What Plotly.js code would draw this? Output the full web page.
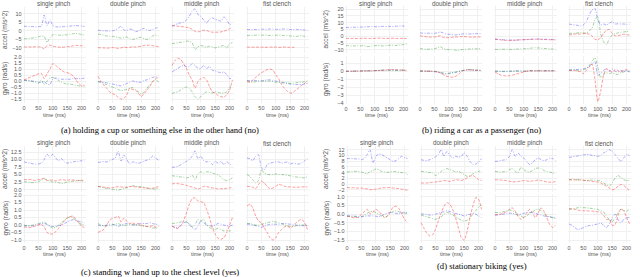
<!DOCTYPE html>
<html><head><meta charset="utf-8">
<script src="https://cdn.plot.ly/plotly-3.0.1.min.js"></script>
<style>html,body{margin:0;padding:0;background:#fff}#chart{width:640px;height:277px}</style>
</head><body><div id="chart"></div>
<script>
// ---------- data ----------
const T = [0,10,20,30,40,50,60,70,80,90,100,110,120,130,140,150,160,170,180,190,200,210];
const gestureNames = ['single pinch','double pinch','middle pinch','fist clench'];
const gestureKeys = ['sp','dp','mp','fc'];
const captions = {
  a:'(a) holding a cup or something else in the other hand (no)',
  b:'(b) riding a car as a passenger (no)',
  c:'(c) standing w hand up to the chest level (yes)',
  d:'(d) stationary biking (yes)'
};
const accTitle = 'accel (m/s^2)';
const gyrTitle = 'gyro (rad/s)';
const timeTitle = 'time (ms)';
const xTicks = [0,50,100,150,200];

// panel a
const a_sp_acc_x = [2.7,2.6,2.5,2.5,2.4,2.5,2.6,9.3,3.0,6.5,3.2,2.4,2.3,2.4,2.5,2.6,2.8,3.0,3.1,3.0,2.8,2.6];
const a_sp_acc_y = [-4.7,-4.5,-4.3,-4.2,-4.0,-3.5,-3.0,-3.2,-6.8,-4.0,-2.4,-2.2,-2.5,-2.6,-2.4,-2.3,-2.0,-1.7,-1.5,-1.8,-2.1,-2.5];
const a_sp_acc_z = [-9.4,-9.5,-9.4,-9.5,-9.3,-9.4,-9.6,-10.6,-8.6,-8.4,-9.0,-9.3,-9.5,-9.6,-9.5,-9.3,-9.2,-8.8,-8.5,-8.6,-8.8,-9.0];
const a_sp_gyr_x = [0.05,0.05,0.05,0.0,-0.05,-0.1,-0.1,-0.05,-0.25,-0.3,0.2,0.25,0.2,0.15,0.15,0.15,0.15,0.2,0.2,0.2,0.2,0.25];
const a_sp_gyr_y = [0.1,0.05,0.0,-0.05,-0.1,-0.2,0.1,-0.3,0.0,0.25,0.3,0.2,0.05,-0.1,-0.2,-0.25,-0.25,-0.3,-0.35,-0.4,-0.45,-0.45];
const a_sp_gyr_z = [0.08,0.2,0.3,0.4,0.5,0.6,0.65,0.2,0.6,1.0,1.45,1.3,1.1,0.9,0.75,0.7,0.6,0.45,0.1,-0.2,-0.4,-0.35];

const a_dp_acc_x = [0.5,0.1,0.0,0.0,-0.2,0.0,0.5,1.5,2.8,0.5,0.3,1.0,0.8,-0.5,0.0,0.8,1.5,0.5,0.3,0.8,1.5,2.0];
const a_dp_acc_y = [-1.8,-2.2,-2.5,-3.0,-3.2,-3.2,-3.5,-3.8,-4.3,-4.0,-3.6,-4.5,-5.0,-4.6,-4.0,-3.8,-4.6,-5.0,-4.2,-3.0,-2.5,-3.0];
const a_dp_acc_z = [-9.8,-10.0,-10.0,-10.2,-10.0,-9.8,-10.0,-10.3,-10.0,-9.5,-9.8,-9.7,-9.3,-9.5,-9.3,-9.0,-8.6,-8.5,-8.4,-8.7,-9.0,-9.2];
const a_dp_gyr_x = [-0.05,-0.08,-0.1,-0.15,-0.2,-0.25,-0.3,-0.35,-0.4,-0.3,-0.2,-0.1,0.0,-0.05,-0.1,-0.1,0.05,0.1,0.2,0.3,0.35,0.3];
const a_dp_gyr_y = [-0.05,-0.1,-0.2,-0.3,-0.4,-0.5,-0.6,-0.7,-0.8,-0.75,-0.7,-0.6,-0.55,-0.7,-0.9,-1.1,-0.9,-0.6,-0.3,-0.05,0.15,-0.1];
const a_dp_gyr_z = [0.4,0.0,-0.33,-0.6,-0.9,-1.05,-1.15,-1.35,-1.5,-1.45,-1.15,-0.6,-0.7,-0.75,-1.0,-1.3,-1.05,-0.75,-0.45,-0.05,0.2,0.3];

const a_mp_acc_x = [2.7,3.5,4.3,4.7,5.1,6.3,8.6,11.6,12.9,9.6,8.6,6.3,4.7,6.7,7.6,6.7,6.3,5.7,8.2,6.7,3.7,4.3];
const a_mp_acc_y = [-7.5,-7.2,-7.0,-6.7,-6.5,-6.0,-6.2,-7.0,-11.0,-9.4,-8.6,-9.0,-9.6,-9.0,-9.4,-10.0,-9.6,-9.0,-8.6,-10.0,-7.5,-7.0];
const a_mp_acc_z = [3.1,2.9,2.7,2.5,2.4,2.1,1.8,0.8,-0.2,-0.6,-0.2,0.4,0.2,-0.4,-0.8,-0.8,-0.8,-0.6,-0.2,0.4,1.2,1.8];
const a_mp_gyr_x = [0.75,0.9,1.05,1.2,1.3,1.2,1.2,1.45,1.3,1.05,1.05,1.3,1.05,1.2,0.9,0.85,0.75,0.7,0.75,0.55,0.2,0.3];
const a_mp_gyr_y = [-1.05,-0.95,-0.9,-0.75,-0.6,-0.5,-0.6,-0.9,-1.3,-1.5,-1.3,-1.05,-0.9,-0.95,-1.0,-0.9,-0.95,-1.0,-1.0,-0.9,-0.5,-0.35];
const a_mp_gyr_z = [1.3,1.7,1.9,1.8,1.45,1.05,0.5,0.1,-0.6,-0.05,0.2,0.3,0.1,-0.45,-0.9,-1.0,-1.2,-1.3,-1.35,-1.15,-0.75,0.1];

const a_fc_acc_x = [0.8,0.7,0.8,0.8,0.7,0.9,1.0,0.9,1.1,1.0,0.9,0.8,1.0,1.1,1.0,0.8,0.8,0.9,0.7,0.8,0.5,0.5];
const a_fc_acc_y = [-2.8,-2.6,-2.7,-2.5,-2.4,-2.6,-2.5,-2.6,-2.8,-2.7,-2.6,-2.5,-2.6,-2.8,-2.7,-3.0,-3.2,-3.3,-3.0,-2.9,-3.2,-3.4];
const a_fc_acc_z = [-9.5,-9.6,-9.6,-9.5,-9.6,-9.5,-9.7,-9.6,-9.5,-9.6,-9.5,-9.7,-9.6,-9.5,-9.6,-9.7,-9.6,-9.7,null,null,null,null];
const a_fc_gyr_x = [0.0,0.05,0.05,0.05,0.0,0.0,0.05,0.1,0.1,0.05,0.0,-0.05,-0.1,-0.15,-0.2,-0.25,-0.3,-0.3,-0.3,-0.3,-0.25,-0.2];
const a_fc_gyr_y = [0.05,-0.05,-0.1,-0.05,0.0,0.0,0.0,0.0,0.0,-0.05,-0.1,-0.1,-0.15,-0.15,-0.15,-0.2,-0.2,-0.15,-0.1,-0.1,-0.05,0.0];
const a_fc_gyr_z = [-0.05,-0.1,0.08,0.3,0.5,0.7,0.8,0.95,1.0,0.9,0.5,0.2,-0.3,-0.6,-0.85,-1.0,-0.95,-0.75,-0.55,-0.35,-0.2,0.0];

// panel b
const b_sp_acc_x = [6.5,6.5,6.6,6.6,6.7,6.8,6.8,7.0,7.0,7.2,7.1,7.0,7.2,7.3,7.2,7.3,7.2,7.3,7.5,7.6,7.5,7.4];
const b_sp_acc_y = [-6.8,-6.8,-7.0,-7.0,-6.9,-7.0,-6.8,-7.2,-7.5,-7.0,-6.8,-6.7,-6.9,-7.0,-6.8,-6.6,-6.5,-6.7,-6.5,-6.3,-6.0,-5.8];
const b_sp_acc_z = [-1.5,-1.6,-1.5,-1.5,-1.6,-1.5,-1.4,-1.5,-1.6,-1.5,-1.5,-1.4,-1.3,-1.5,-1.6,-1.5,-1.4,-1.5,-1.6,-1.5,-1.5,-1.6];
const b_sp_gyr_x = [0,0,0,0.02,0.05,0.05,0.05,0.05,0.05,0.05,0.08,0.1,0.1,0.1,0.12,0.15,0.15,0.12,0.1,0.1,0.1,0.1];
const b_sp_gyr_y = [-0.02,0,0,0,0,0.02,0.03,0.03,0.05,0.05,0.08,0.1,0.12,0.15,0.15,0.12,0.1,0.1,0.12,0.15,0.15,0.12];
const b_sp_gyr_z = [0,-0.02,0,0,0.02,0,0.02,0.05,0.05,0.05,0.05,0.08,0.1,0.12,0.15,0.18,0.2,0.2,0.18,0.15,0.12,0.1];

const b_dp_acc_x = [2.5,2.3,2.2,2.3,2.2,2.2,2.5,3.2,2.5,1.8,1.5,1.2,1.0,1.2,1.5,1.8,1.8,1.7,1.8,1.9,2.0,2.0];
const b_dp_acc_y = [-9.0,-9.2,-9.5,-9.4,-9.2,-9.0,-8.5,-7.5,-9.0,-9.5,-9.7,-9.8,-10.0,-10.2,-9.8,-9.6,-9.5,-9.3,-9.2,-9.2,-9.1,-9.2];
const b_dp_acc_z = [0.5,0.0,-0.3,-0.5,-0.5,-0.4,-0.3,0.5,-0.8,-1.0,-1.0,-0.8,-0.6,-0.5,-0.3,-0.2,-0.3,-0.5,-0.6,-0.5,-0.4,-0.4];
const b_dp_gyr_x = [0,0,0,0,0,-0.05,-0.1,-0.2,-0.3,-0.35,-0.3,-0.2,-0.15,-0.1,0,0.1,0.15,0.15,0.15,0.1,0.1,0.1];
const b_dp_gyr_y = [0,0,0,0,0,0,-0.05,-0.15,-0.2,-0.3,-0.25,-0.2,-0.15,-0.05,0.05,0.1,0.15,0.2,0.2,0.15,0.15,0.1];
const b_dp_gyr_z = [0.05,0.05,0.02,0,-0.02,-0.05,-0.1,-0.2,-0.4,-0.6,-0.7,-0.75,-0.7,-0.5,-0.2,0.05,0.15,0.2,0.15,0.12,0.1,0.1];

const b_mp_acc_x = [-2.2,-2.2,-2.4,-2.5,-2.6,-2.7,-2.8,-2.8,-2.7,-2.6,-2.5,-2.4,-2.3,-2.2,-2.2,-2.0,-2.0,-2.1,-2.2,-2.2,-2.3,-2.3];
const b_mp_acc_y = [-9.5,-9.6,-9.5,-9.4,-9.5,-9.6,-9.5,-9.4,-9.3,-9.2,-9.1,-9.0,-8.8,-8.5,-8.3,-8.5,-8.7,-8.9,-9.0,-9.2,-9.3,-9.4];
const b_mp_acc_z = [-2.0,-2.3,-2.6,-2.8,-3.0,-3.0,-2.9,-2.8,-2.6,-2.5,-2.4,-2.3,-2.2,-2.0,-2.0,-2.1,-2.2,-2.3,-2.4,-2.5,-2.5,-2.6];
const b_mp_gyr_x = [0,0,-0.05,-0.05,-0.05,0,0,0.05,0.05,0.05,0,0,0.05,0.05,0.05,0.05,0.05,0.05,0.05,0.05,0.05,0.05];
const b_mp_gyr_y = [0,0,0,0,0,0,0,0,0,0,0,0.05,0.05,0.05,0.05,0.05,0.05,0.05,0.05,0.05,0.05,0.05];
const b_mp_gyr_z = [-0.1,-0.3,-0.5,-0.55,-0.6,-0.55,-0.5,-0.4,-0.3,-0.2,-0.1,0,0.05,0.05,0.05,0.05,0.05,0.05,0.05,0.05,0.05,0.05];

const b_fc_acc_x = [9.0,8.6,8.3,8.0,7.6,8.3,10.7,15.6,19.3,20.5,12.0,8.3,9.0,8.3,9.5,10.7,9.0,9.2,9.0,9.0,8.8,8.8];
const b_fc_acc_y = [2.2,2.2,2.2,2.5,2.7,2.5,2.2,4.1,5.9,12.0,14.5,2.0,-4.0,-6.0,-2.0,1.0,2.0,2.5,3.0,3.2,3.5,3.5];
const b_fc_acc_z = [1.0,1.3,1.7,1.7,1.7,2.2,2.2,1.5,0.2,-2.2,-2.5,-1.0,2.0,4.5,5.0,2.0,0.5,0.5,1.0,1.5,1.2,1.0];
const b_fc_gyr_x = [0.17,0.18,0.2,0.22,0.25,0.3,0.4,0.6,0.9,1.2,-0.5,-0.3,0.1,0.3,0.0,0.3,0.0,-0.1,0.1,0.0,0.05,-0.1];
const b_fc_gyr_y = [0.1,0.12,0.15,0.12,0.1,0.2,0.3,0.7,1.2,1.7,0.5,-0.8,-0.4,-0.2,-0.3,-0.2,-0.35,-0.4,-0.2,-0.1,0.1,0.0];
const b_fc_gyr_z = [0.1,0.1,0.1,0.0,-0.05,-0.3,0.1,0.5,0.9,-1.0,-3.8,-2.5,-0.5,0.3,0.1,-0.1,0.2,0.1,-0.1,0.1,0.2,0.1];

// panel c
const c_sp_acc_x = [9.2,9.0,8.8,8.6,8.5,8.5,8.8,10.0,11.8,10.7,11.8,10.5,9.6,10.3,9.2,8.8,9.0,9.2,9.4,9.4,9.6,9.4];
const c_sp_acc_y = [2.6,2.5,2.4,2.3,2.4,2.6,3.2,3.6,3.2,2.8,2.5,2.4,2.3,2.0,2.2,2.5,2.7,2.8,2.9,3.0,2.9,2.8];
const c_sp_acc_z = [3.3,3.3,3.4,3.2,3.0,3.3,3.5,3.8,3.0,3.2,3.1,2.9,3.1,3.3,3.2,3.1,3.3,3.2,3.0,3.0,3.1,2.9];
const c_sp_gyr_x = [-0.05,-0.05,-0.08,-0.05,0,0.05,0.08,0.1,0.05,-0.05,-0.1,-0.08,-0.05,0,0.1,0.2,0.3,0.35,0.3,0.25,0.2,0.15];
const c_sp_gyr_y = [0.0,-0.05,-0.05,0,0.05,0.1,0.15,0.2,0.05,-0.1,-0.2,-0.15,0,0.15,0.3,0.45,0.55,0.5,0.3,0.15,0.05,0.0];
const c_sp_gyr_z = [-0.13,-0.15,-0.18,-0.12,-0.07,0.0,0.05,-0.13,-0.5,-0.6,-0.58,-0.45,-0.22,0.05,0.27,0.5,0.56,0.6,0.38,0.15,-0.07,-0.18];

const c_dp_acc_x = [9.0,9.2,9.3,9.2,9.5,10.0,10.5,12.8,9.5,11.5,10.0,8.5,9.2,9.0,8.8,9.0,9.5,9.8,10.2,11.2,10.5,9.8];
const c_dp_acc_y = [1.1,0.8,0.6,0.4,0.3,0.1,0.0,-0.2,0.1,0.4,0.6,1.0,1.3,1.1,1.0,0.9,0.8,0.5,0.3,0.2,0.2,0.5];
const c_dp_acc_z = [1.0,1.0,0.8,0.7,0.5,0.6,0.8,1.0,0.9,0.8,0.8,1.0,1.0,0.9,0.8,0.7,0.6,0.5,0.4,0.5,0.7,1.0];
const c_dp_gyr_x = [0.0,-0.05,-0.05,0,0.05,0.05,0,-0.1,0,0.05,0.1,0.05,0,0,0.05,0.1,0.1,0.1,0.15,0.1,0.05,0.05];
const c_dp_gyr_y = [0.1,0.0,-0.05,-0.05,-0.05,0,0.05,0.1,0,-0.05,0,0.05,0.05,0,0,-0.05,-0.1,-0.1,-0.15,-0.2,-0.2,-0.2];
const c_dp_gyr_z = [-0.5,-0.4,-0.3,0.0,0.3,0.45,0.5,0.6,0.2,0.45,0.25,0.1,0.15,0.05,0.1,0.0,-0.05,-0.1,-0.1,-0.05,-0.15,-0.1];

const c_mp_acc_x = [7.4,7.5,7.7,8.2,8.8,9.4,10.0,11.1,12.9,10.3,11.1,9.6,9.2,9.4,8.3,9.4,8.8,9.4,8.3,9.2,8.5,8.1];
const c_mp_acc_y = [4.6,4.5,4.4,4.2,4.1,3.9,4.1,4.8,3.3,5.2,5.9,5.5,5.9,5.8,5.5,5.2,5.0,4.1,3.3,3.0,3.3,3.9];
const c_mp_acc_z = [1.9,2.0,2.0,1.8,1.7,1.4,1.1,0.8,0.55,0.2,0.55,1.1,1.0,0.8,0.55,0.4,0.2,0.3,0.3,0.4,0.55,0.8];
const c_mp_gyr_x = [-0.07,-0.15,-0.2,0.0,0.15,0.2,0.05,-0.18,-0.3,-0.07,0.27,0.15,0.0,-0.05,-0.07,0.0,0.1,0.05,0.0,-0.05,-0.07,0.0];
const c_mp_gyr_y = [0.1,0.12,0.15,0.2,0.27,0.2,0.1,-0.13,0.0,0.38,0.27,0.38,0.0,-0.18,-0.22,-0.3,-0.22,-0.3,-0.4,-0.35,-0.4,-0.35];
const c_mp_gyr_z = [-0.07,-0.18,-0.22,-0.07,0.27,0.8,1.38,1.75,1.82,1.6,1.55,1.5,1.05,0.5,-0.18,-0.6,-0.9,-0.95,-0.85,-0.5,0.0,0.5];

const c_fc_acc_x = [10.5,10.3,9.6,11.1,11.6,7.2,6.6,8.3,8.8,9.0,9.2,9.2,8.8,9.0,9.2,8.5,8.8,8.6,8.5,8.8,9.6,10.3];
const c_fc_acc_y = [5.0,4.4,3.3,2.2,3.0,6.6,5.5,5.0,5.0,5.0,5.2,5.0,5.0,4.9,4.8,4.6,4.4,4.2,4.1,4.0,3.9,4.4];
const c_fc_acc_z = [1.1,1.0,0.8,0.3,1.7,2.8,2.2,1.1,0.3,0.5,1.1,1.7,1.5,1.1,0.9,0.9,0.8,0.8,0.8,0.9,0.9,0.9];
const c_fc_gyr_x = [0.05,0.05,0,-0.05,-0.1,-0.15,-0.1,0,0.05,0.05,0.05,0.05,0.08,0.1,0.08,0.05,0.05,0,-0.05,-0.05,-0.05,-0.05];
const c_fc_gyr_y = [0.1,0.1,0.05,0,0,0.05,0.1,0.15,0.2,0.25,0.2,0.15,0.1,0,-0.05,-0.1,-0.1,-0.05,0,0,0,0];
const c_fc_gyr_z = [1.27,1.38,1.15,0.6,0.27,0.15,-0.18,-0.5,-0.85,-1.0,-0.85,-0.5,-0.3,-0.13,-0.07,-0.18,-0.07,0.15,0.3,0.38,0.15,-0.3];

// panel d
const d_sp_acc_x = [8.9,8.9,8.9,8.8,8.8,8.5,8.9,10.3,12.0,7.4,9.7,10.5,10.3,9.7,9.1,8.5,7.9,8.2,8.9,9.7,9.3,8.9];
const d_sp_acc_y = [4.2,4.3,4.4,4.4,4.4,4.2,3.9,3.5,4.4,4.7,5.3,5.0,4.4,4.2,4.1,4.2,4.4,4.3,4.2,4.0,3.9,3.3];
const d_sp_acc_z = [-1.2,-1.3,-1.3,-1.4,-1.4,-1.4,-1.6,-1.7,-2.0,-1.9,-1.8,-1.6,-1.4,-1.3,-1.2,-1.3,-1.4,-1.5,-1.6,-1.8,-2.0,-2.2];
const d_sp_gyr_x = [-0.1,-0.1,-0.1,-0.12,-0.15,-0.15,-0.12,-0.1,-0.1,-0.1,-0.12,-0.15,-0.1,0,0.05,0.1,0.1,0.05,0.05,0.05,0.1,0.1];
const d_sp_gyr_y = [-0.1,-0.12,-0.15,-0.15,-0.2,-0.15,-0.05,0.05,0.15,0.15,0.1,0,-0.1,-0.2,-0.1,0.05,0.15,0.2,0.15,0.1,0.05,0.05];
const d_sp_gyr_z = [-0.12,-0.15,-0.2,-0.2,-0.18,0.0,0.14,0.28,0.02,0.14,0.28,0.18,0.0,-0.18,-0.12,0.14,0.4,0.47,0.33,0.02,-0.3,-0.5];

const d_dp_acc_x = [8.5,8.3,8.2,8.5,8.9,9.5,10.3,12.0,9.7,11.4,10.0,9.1,9.7,9.4,9.7,10.9,9.7,7.9,6.8,7.0,7.7,8.9];
const d_dp_acc_y = [4.4,4.3,4.2,4.0,3.9,3.0,3.5,4.4,5.0,5.4,5.0,4.7,4.2,4.4,3.9,3.3,2.7,3.0,3.5,4.2,4.4,4.7];
const d_dp_acc_z = [0.35,0.35,0.35,0.5,0.6,0.7,0.9,1.0,1.2,1.1,0.9,1.2,1.5,1.4,1.2,1.6,2.1,2.7,3.0,2.3,1.5,1.2];
const d_dp_gyr_x = [0,0.02,-0.02,-0.05,-0.05,0,0.05,0.1,0.15,0.2,0.15,0.1,0.05,0.0,-0.05,-0.1,-0.05,0,0.05,0.0,-0.1,-0.2];
const d_dp_gyr_y = [-0.05,-0.1,-0.15,-0.2,-0.25,-0.3,-0.25,-0.15,0,0.1,0.05,-0.05,-0.15,-0.25,-0.35,-0.4,-0.35,-0.2,0.0,0.2,0.4,0.55];
const d_dp_gyr_z = [-0.5,-0.8,-1.1,-1.25,-1.2,-0.9,-0.4,0.08,0.47,0.67,0.57,0.28,-0.2,-0.8,-1.36,-1.5,-1.0,-0.2,0.47,0.96,0.87,0.28];

const d_mp_acc_x = [7.9,8.0,8.2,8.4,8.5,9.7,12.0,9.7,10.9,9.7,9.1,7.9,6.8,7.4,8.5,9.1,8.5,8.2,8.5,9.1,8.9,8.2];
const d_mp_acc_y = [4.4,4.3,4.2,4.3,4.4,5.0,5.4,4.4,3.9,5.8,5.0,4.4,4.2,4.7,5.4,5.6,5.4,4.7,4.4,4.2,3.9,3.5];
const d_mp_acc_z = [1.5,1.45,1.4,1.3,1.2,1.0,0.7,0.8,0.9,1.0,1.2,1.1,0.9,1.1,1.2,1.4,1.2,1.0,0.7,0.65,0.6,0.9];
const d_mp_gyr_x = [-0.05,-0.05,-0.02,0,0.05,0.05,0.05,0.0,-0.05,0,0.05,0.1,0.1,0.1,0.05,0,-0.05,-0.1,-0.15,-0.15,-0.2,-0.2];
const d_mp_gyr_y = [0.1,0.1,0.1,0.15,0.2,0.25,0.2,0.1,0.0,-0.1,-0.2,-0.1,0.05,0.15,0.25,0.3,0.2,0.05,-0.1,-0.15,-0.2,-0.25];
const d_mp_gyr_z = [-0.05,0.0,0.0,0.07,0.14,0.28,0.37,0.18,-0.12,-0.3,-0.2,0.08,0.28,0.08,-0.2,0.08,0.37,0.18,-0.2,-0.6,-0.77,-0.65];

const d_fc_acc_x = [9.3,9.5,9.7,9.8,10.0,10.2,10.3,10.3,10.0,9.9,9.7,10.0,10.9,11.4,12.0,11.4,10.3,9.1,7.9,9.1,10.3,10.0];
const d_fc_acc_y = [1.5,1.5,1.4,1.5,1.5,1.3,1.2,1.3,1.4,1.3,1.2,1.0,0.35,-0.2,-0.8,0.35,2.1,3.0,2.3,1.5,1.2,1.2];
const d_fc_acc_z = [1.5,1.5,1.5,1.4,1.4,1.3,1.2,1.1,0.9,0.8,0.7,0.35,-0.2,-0.8,-1.4,-2.0,-1.7,-0.8,-0.2,-0.5,-1.4,-2.3];
const d_fc_gyr_x = [-0.57,-0.65,-0.77,-0.9,-0.85,-0.78,-0.7,-0.66,-0.65,-0.6,-0.57,-0.51,-0.65,-0.77,-0.57,-0.2,0.0,-0.3,-0.51,-0.3,-0.2,-0.2];
const d_fc_gyr_y = [0.28,0.3,0.33,0.37,0.4,0.38,0.37,0.35,0.33,0.3,0.28,0.2,0.14,-0.12,-0.3,-0.45,-0.2,0.08,0.28,0.22,0.18,0.28];
const d_fc_gyr_z = [0.33,0.3,0.28,0.25,0.2,0.2,0.2,0.18,0.18,0.16,0.14,0.1,-0.05,-0.3,-0.3,-0.65,-0.6,-0.1,0.3,0.2,-0.2,-0.55];

// lookup table built from the arrays above
const SERIES = {
  a_sp_acc:[a_sp_acc_x,a_sp_acc_y,a_sp_acc_z], a_sp_gyr:[a_sp_gyr_x,a_sp_gyr_y,a_sp_gyr_z],
  a_dp_acc:[a_dp_acc_x,a_dp_acc_y,a_dp_acc_z], a_dp_gyr:[a_dp_gyr_x,a_dp_gyr_y,a_dp_gyr_z],
  a_mp_acc:[a_mp_acc_x,a_mp_acc_y,a_mp_acc_z], a_mp_gyr:[a_mp_gyr_x,a_mp_gyr_y,a_mp_gyr_z],
  a_fc_acc:[a_fc_acc_x,a_fc_acc_y,a_fc_acc_z], a_fc_gyr:[a_fc_gyr_x,a_fc_gyr_y,a_fc_gyr_z],
  b_sp_acc:[b_sp_acc_x,b_sp_acc_y,b_sp_acc_z], b_sp_gyr:[b_sp_gyr_x,b_sp_gyr_y,b_sp_gyr_z],
  b_dp_acc:[b_dp_acc_x,b_dp_acc_y,b_dp_acc_z], b_dp_gyr:[b_dp_gyr_x,b_dp_gyr_y,b_dp_gyr_z],
  b_mp_acc:[b_mp_acc_x,b_mp_acc_y,b_mp_acc_z], b_mp_gyr:[b_mp_gyr_x,b_mp_gyr_y,b_mp_gyr_z],
  b_fc_acc:[b_fc_acc_x,b_fc_acc_y,b_fc_acc_z], b_fc_gyr:[b_fc_gyr_x,b_fc_gyr_y,b_fc_gyr_z],
  c_sp_acc:[c_sp_acc_x,c_sp_acc_y,c_sp_acc_z], c_sp_gyr:[c_sp_gyr_x,c_sp_gyr_y,c_sp_gyr_z],
  c_dp_acc:[c_dp_acc_x,c_dp_acc_y,c_dp_acc_z], c_dp_gyr:[c_dp_gyr_x,c_dp_gyr_y,c_dp_gyr_z],
  c_mp_acc:[c_mp_acc_x,c_mp_acc_y,c_mp_acc_z], c_mp_gyr:[c_mp_gyr_x,c_mp_gyr_y,c_mp_gyr_z],
  c_fc_acc:[c_fc_acc_x,c_fc_acc_y,c_fc_acc_z], c_fc_gyr:[c_fc_gyr_x,c_fc_gyr_y,c_fc_gyr_z],
  d_sp_acc:[d_sp_acc_x,d_sp_acc_y,d_sp_acc_z], d_sp_gyr:[d_sp_gyr_x,d_sp_gyr_y,d_sp_gyr_z],
  d_dp_acc:[d_dp_acc_x,d_dp_acc_y,d_dp_acc_z], d_dp_gyr:[d_dp_gyr_x,d_dp_gyr_y,d_dp_gyr_z],
  d_mp_acc:[d_mp_acc_x,d_mp_acc_y,d_mp_acc_z], d_mp_gyr:[d_mp_gyr_x,d_mp_gyr_y,d_mp_gyr_z],
  d_fc_acc:[d_fc_acc_x,d_fc_acc_y,d_fc_acc_z], d_fc_gyr:[d_fc_gyr_x,d_fc_gyr_y,d_fc_gyr_z]
};

// ---------- layout / styling ----------
const W = 640, H = 277, SC = 0.288;
const COLORS = ['rgba(60,60,255,0.5)','rgba(30,150,30,0.5)','rgba(255,40,40,0.55)'];
const DASHES = ['3px,1.5px,1px,1.5px','3px,1.5px,1px,1.5px','3px,1.5px'];
const GRID = '#f0f0f0';
const TXT = '#555555';
const SANS = 'Liberation Sans, Arial, sans-serif';

const PANELS = [
  {key:'a', x0:[24,98,172,247], acc:[7,53,-13,14], gyr:[55,103,-1.83,2.17], accD:5, gyrD:0.5, accF:'d', gyrF:'.1f', titleY:4, ylabX:5, ylabS:6.5, timeY:114.5, capX:160, capY:130},
  {key:'b', x0:[346,420,495,569], acc:[6,53,-12.2,22.2], gyr:[56,104,-4.1,1.9], accD:5, gyrD:1, accF:'d', gyrF:'d', titleY:4, ylabX:326, ylabS:6.5, timeY:114.5, capX:481, capY:130},
  {key:'c', x0:[24,98,172,247], acc:[146,192,-0.8,14.5], gyr:[194,243,-1.2,2.07], accD:2.5, gyrD:0.5, accF:'.1f', gyrF:'.1f', titleY:143, ylabX:5, ylabS:6.8, timeY:254, capX:160, capY:272},
  {key:'d', x0:[347,421,495,569], acc:[146,192,-2.8,13.3], gyr:[194,243,-1.67,1.17], accD:2, gyrD:0.5, accF:'d', gyrF:'.1f', titleY:143, ylabX:326, ylabS:6.8, timeY:254, capX:482, capY:266}
];

function ann(text, xp, yp, size, extra){
  return Object.assign({text:text, x:xp/W, y:1-yp/H, xref:'paper', yref:'paper', showarrow:false,
    xanchor:'center', yanchor:'middle', font:{family:SANS, size:size, color:TXT}}, extra||{});
}

const traces = [];
const layout = {
  width:W, height:H, margin:{l:0,r:0,t:0,b:0}, paper_bgcolor:'#fff', plot_bgcolor:'#fff',
  showlegend:false, annotations:[]
};
let k = 0;
PANELS.forEach(p => {
  gestureKeys.forEach((g, c) => {
    const left = p.x0[c] - 5*SC, right = left + 220*SC;
    ['acc','gyr'].forEach((s, r) => {
      k++;
      const id = k === 1 ? '' : String(k);
      const box = r === 0 ? p.acc : p.gyr;
      SERIES[p.key+'_'+g+'_'+s].forEach((ys, i) => {
        traces.push({x:T, y:ys, xaxis:'x'+id, yaxis:'y'+id, type:'scatter', mode:'lines',
          line:{color:COLORS[i], width:0.85, dash:DASHES[i], shape:'spline', smoothing:0.6},
          hoverinfo:'skip', connectgaps:false});
      });
      layout['xaxis'+id] = {domain:[left/W, right/W], range:[-5,215], anchor:'y'+id,
        tickvals:xTicks, showticklabels:r===1, showgrid:true, gridcolor:GRID, gridwidth:1,
        zeroline:false, showline:false, ticks:'', tickfont:{family:SANS, size:5.5, color:TXT}, fixedrange:true};
      const fmt = r === 0 ? p.accF : p.gyrF;
      layout['yaxis'+id] = {domain:[1-box[1]/H, 1-box[0]/H], range:[box[2], box[3]], anchor:'x'+id,
        tick0:0, dtick: r===0 ? p.accD : p.gyrD, tickformat: fmt==='d' ? '' : fmt,
        showticklabels:c===0, showgrid:true, gridcolor:GRID, gridwidth:1, zeroline:false, showline:false,
        ticks:'', tickfont:{family:SANS, size:5.5, color:TXT}, fixedrange:true};
    });
    const mid = (left+right)/2;
    layout.annotations.push(ann(gestureNames[c], mid, p.titleY, 6.3));
    layout.annotations.push(ann(timeTitle, mid, p.timeY, 5.5));
  });
  layout.annotations.push(ann(accTitle, p.ylabX, (p.acc[0]+p.acc[1])/2, p.ylabS, {textangle:-90}));
  layout.annotations.push(ann(gyrTitle, p.ylabX, (p.gyr[0]+p.gyr[1])/2, p.ylabS, {textangle:-90}));
  layout.annotations.push(ann(captions[p.key], p.capX, p.capY, 8.6,
    {font:{family:'Liberation Serif, Times New Roman, serif', size:8.6, color:'#000'}}));
});

Plotly.newPlot('chart', traces, layout, {staticPlot:true, displayModeBar:false});
</script>
</body></html>
